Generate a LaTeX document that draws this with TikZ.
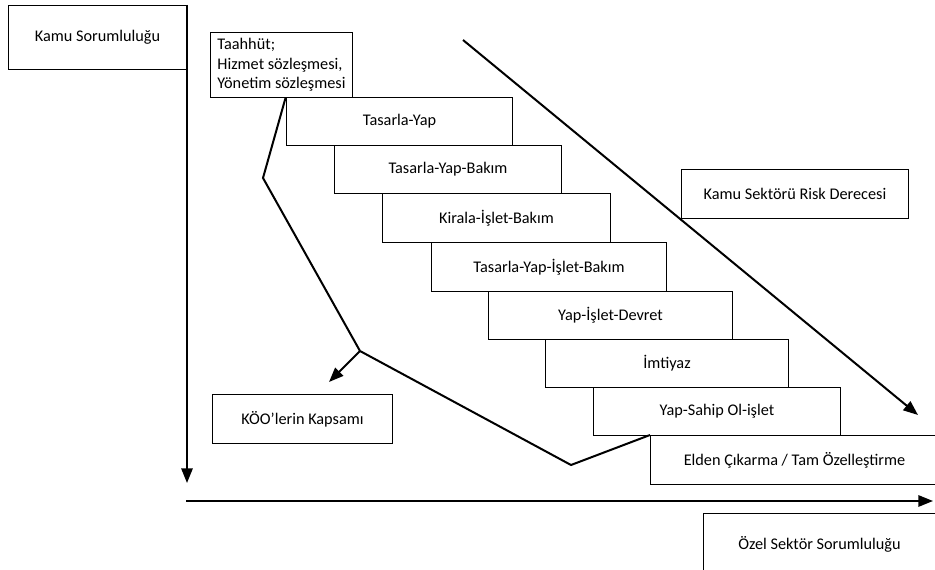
\documentclass[tikz,border=0pt]{standalone}
\usepackage{fontspec}
\setmainfont{Carlito}
\usepackage{tikz}
\usetikzlibrary{positioning, arrows.meta}

\begin{document}
\begin{tikzpicture}[x=0.75pt, y=-0.75pt, every node/.style={font=\fontsize{12.2}{14.5}\selectfont},
    box/.style={draw, line width=0.75pt, anchor=north west, inner sep=0pt, align=center},
    size/.style 2 args={minimum width=#1*0.75pt, minimum height=#2*0.75pt},
    heavy/.style={line width=1.5pt},
    tip/.style={-{Triangle[length=11pt, width=8.5pt]}}]
    \useasboundingbox (0,0) rectangle (935,570);
    % side labels
    \node[box, size={178}{64}] (kamu) at (8,5) {Kamu Sorumluluğu};
    \node[box, size={232}{62}] (ozel) at (703,513) {Özel Sektör Sorumluluğu};
    \node[box, size={227}{49}] (risk) at (681,169) {Kamu Sektörü Risk Derecesi};
    \node[box, size={180}{49}] (koo) at (212,394) {KÖO'lerin Kapsamı};
    % contract steps
    \node[box, size={142}{65}, align=left] (taahhut) at (210,32) {Taahhüt;\\Hizmet sözleşmesi,\\Yönetim sözleşmesi};
    \node[box, size={226}{48}] (s1) at (286,97) {Tasarla-Yap};
    \node[box, size={227}{48}] (s2) at (334,145) {Tasarla-Yap-Bakım};
    \node[box, size={228}{49}] (s3) at (382,193) {Kirala-İşlet-Bakım};
    \node[box, size={235}{49}] (s4) at (431,242) {Tasarla-Yap-İşlet-Bakım};
    \node[box, size={244}{48}] (s5) at (488,291) {Yap-İşlet-Devret};
    \node[box, size={243}{48}] (s6) at (545,339) {İmtiyaz};
    \node[box, size={247}{48}] (s7) at (593,387) {Yap-Sahip Ol-işlet};
    \node[box, size={288}{49}] (s8) at (650,435) {Elden Çıkarma / Tam Özelleştirme};
    % axes and arrows
    \coordinate (vend) at (187,483);
    \coordinate (hstart) at (186,501);
    \coordinate (hend) at (933,501);
    \coordinate (dstart) at (463,40);
    \coordinate (dend) at (918,415);
    \coordinate (bend) at (263,178);
    \coordinate (knee) at (360,351);
    \coordinate (low) at (571,465);
    \coordinate (kootip) at (329,382);
    \draw[heavy, tip] (kamu.north east) -- (vend);
    \draw[heavy, tip] (hstart) -- (hend);
    \draw[heavy, tip] (dstart) -- (dend);
    \draw[heavy] ([xshift=3pt]taahhut.south) -- (bend) -- (knee) -- (low) -- (s8.north west);
    \draw[heavy, tip] (knee) -- (kootip);
\end{tikzpicture}
\end{document}
